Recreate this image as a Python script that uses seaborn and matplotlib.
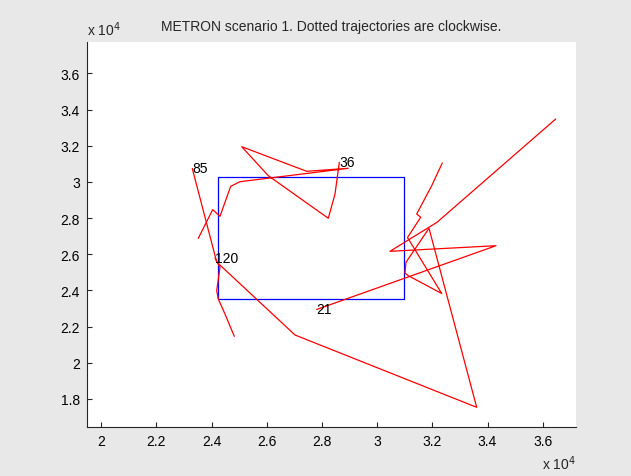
import matplotlib
matplotlib.use("Agg")
import matplotlib.pyplot as plt
import matplotlib.ticker as mticker
import numpy as np
import pandas as pd
import seaborn as sns

# Target tracks (metres); each track is labelled by its id at its first point
track_ids = ["85", "36", "21", "120"]

track_85_x = [23299, 24183, 27022, 33608, 31879, 31045, 31009, 31129, 32340,
              31100, 31578, 31433, 31977, 32361]
track_85_y = [30740, 25572, 21537, 17541, 27435, 25556, 24964, 24815, 23831,
              26926, 28043, 28225, 29789, 31044]

track_36_x = [28628, 28472, 28229, 26054, 25090, 27446, 28954, 25028, 24691,
              24303, 24038, 23516]
track_36_y = [31083, 29330, 27988, 30342, 31945, 30585, 30751, 30010, 29756,
              28098, 28463, 26882]

track_21_x = [27808, 34308, 30465, 32169, 36472]
track_21_y = [22947, 26473, 26163, 27766, 33476]

track_120_x = [24122, 24303, 24183, 24241, 24484, 24821]
track_120_y = [25793, 25279, 23986, 23527, 22698, 21465]

# Surveillance region (rectangle)
region_x = [24240, 30970]
region_y = [23500, 30250]

x_ticks = [20000, 22000, 24000, 26000, 28000, 30000, 32000, 34000, 36000]
y_ticks = [18000, 20000, 22000, 24000, 26000, 28000, 30000, 32000, 34000, 36000]

sns.set_style("ticks")
plt.rcParams["font.family"] = ["Liberation Sans", "DejaVu Sans"]
plt.rcParams["font.size"] = 10

tracks = {
    "85": (track_85_x, track_85_y),
    "36": (track_36_x, track_36_y),
    "21": (track_21_x, track_21_y),
    "120": (track_120_x, track_120_y),
}
rows = []
for tid in track_ids:
    xs, ys = tracks[tid]
    for i, (x, y) in enumerate(zip(xs, ys)):
        rows.append({"track": tid, "step": i, "x": x, "y": y})
df = pd.DataFrame(rows)

rect = pd.DataFrame({
    "x": [region_x[0], region_x[1], region_x[1], region_x[0], region_x[0]],
    "y": [region_y[0], region_y[0], region_y[1], region_y[1], region_y[0]],
})

W, H = 631, 477
fig = plt.figure(figsize=(W / 100, H / 100), dpi=100, facecolor="#e8e8e8")
ax = fig.add_axes([86.7 / W, 1 - 427.7 / H, (576 - 86.7) / W, (427.7 - 43.3) / H])
ax.set_facecolor("white")

sns.lineplot(data=rect, x="x", y="y", sort=False, estimator=None,
             color="#0000ff", linewidth=0.9, ax=ax)
sns.lineplot(data=df, x="x", y="y", units="track", estimator=None, sort=False,
             color="#ff0000", linewidth=0.9, ax=ax, legend=False)

for tid in track_ids:
    xs, ys = tracks[tid]
    ax.text(xs[0], ys[0], tid, ha="left", va="center", fontsize=10, color="black")

ax.set_xlim(19471, 37208)
ax.set_ylim(16469, 37715)
ax.set_xticks(x_ticks)
ax.set_yticks(y_ticks)
fmt = mticker.FuncFormatter(lambda v, p: f"{v / 1e4:g}")
ax.xaxis.set_major_formatter(fmt)
ax.yaxis.set_major_formatter(fmt)
ax.tick_params(direction="in", length=3.5, width=0.8, color="#262626",
               labelsize=10, labelcolor="black")
ax.tick_params(axis="x", pad=5)
ax.tick_params(axis="y", pad=5)
ax.set_xlabel("")
ax.set_ylabel("")
sns.despine(ax=ax, top=True, right=True)
for s in ("left", "bottom"):
    ax.spines[s].set_color("#262626")
    ax.spines[s].set_linewidth(0.8)

ax.set_title("METRON scenario 1. Dotted trajectories are clockwise.",
             fontsize=10, pad=9)

fig.text(87 / W, 1 - 36 / H, r"x 10$^4$", ha="left", va="baseline", fontsize=10)
fig.text(576 / W, 1 - 470 / H, r"x 10$^4$", ha="right", va="baseline", fontsize=10)

fig.savefig("out.png", dpi=100, facecolor=fig.get_facecolor())
